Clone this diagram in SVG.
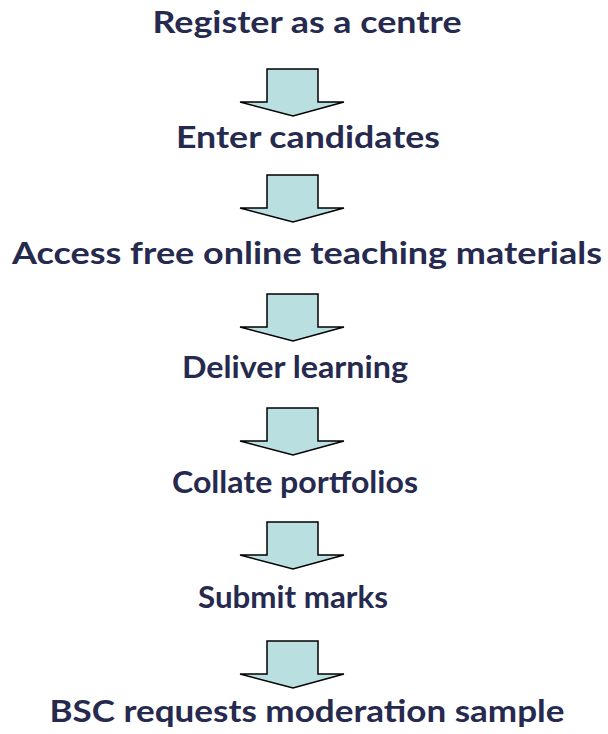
<svg xmlns="http://www.w3.org/2000/svg" width="608" height="734" viewBox="0 0 608 734">
<style>
.t{font-family:Lato,"Open Sans","Liberation Sans",sans-serif;font-weight:bold;font-size:31px;fill:#262a4f;text-anchor:middle}
.a{fill:#b9dfe1;stroke:#000;stroke-width:1.5;stroke-linejoin:miter}
</style>
<defs>
<path id="arr" d="M267,0 L318,0 L318,33 L344,33 L293,47 L240,33 L267,33 Z"/>
</defs>
<rect width="608" height="734" fill="#fff"/>
<g id="connectors">
<use href="#arr" class="a" y="69"/>
<use href="#arr" class="a" y="175"/>
<use href="#arr" class="a" y="294"/>
<use href="#arr" class="a" y="408"/>
<use href="#arr" class="a" y="522"/>
<use href="#arr" class="a" y="641"/>
</g>
<g id="n1"><text class="t" x="307" y="33" textLength="309" lengthAdjust="spacingAndGlyphs">Register as a centre</text></g>
<g id="n2"><text class="t" x="308" y="148" textLength="264" lengthAdjust="spacingAndGlyphs">Enter candidates</text></g>
<g id="n3"><text class="t" x="307" y="264" textLength="590" lengthAdjust="spacingAndGlyphs">Access free online teaching materials</text></g>
<g id="n4"><text class="t" x="295" y="378" textLength="226" lengthAdjust="spacingAndGlyphs">Deliver learning</text></g>
<g id="n5"><text class="t" x="295" y="493" textLength="246" lengthAdjust="spacingAndGlyphs">Collate portfolios</text></g>
<g id="n6"><text class="t" x="293" y="608" textLength="190" lengthAdjust="spacingAndGlyphs">Submit marks</text></g>
<g id="n7"><text class="t" x="307" y="722" textLength="515" lengthAdjust="spacingAndGlyphs">BSC requests moderation sample</text></g>
</svg>
